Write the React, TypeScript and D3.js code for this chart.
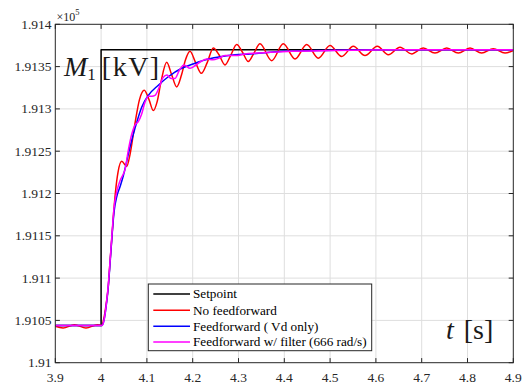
import React from "react";
import * as d3 from "d3";

// Axis ticks
const timeTicks = [3.9, 4.0, 4.1, 4.2, 4.3, 4.4, 4.5, 4.6, 4.7, 4.8, 4.9];
const timeTickLabels = ["3.9", "4", "4.1", "4.2", "4.3", "4.4", "4.5", "4.6", "4.7", "4.8", "4.9"];
const valueTicks = [1.91, 1.9105, 1.911, 1.9115, 1.912, 1.9125, 1.913, 1.9135, 1.914];
const valueTickLabels = ["1.91", "1.9105", "1.911", "1.9115", "1.912", "1.9125", "1.913", "1.9135", "1.914"];

// Setpoint (x10^5 kV)
const setpointT = [3.9, 4.0, 4.0, 4.9];
const setpointV = [1.91044, 1.91044, 1.9137, 1.9137];

// No feedforward
const noFfT = [
  3.9, 3.917, 3.942, 3.967, 3.992, 4.0013, 4.0063, 4.0107, 4.0157, 4.0194, 4.0231, 4.0271, 4.0314, 4.0369,
  4.045, 4.0559, 4.0631, 4.074, 4.0838, 4.0943, 4.1046, 4.114, 4.1221, 4.1308, 4.1432, 4.1537, 4.1651,
  4.1755, 4.1843, 4.1941, 4.2061, 4.2188, 4.2319, 4.245, 4.2574, 4.2705, 4.2836, 4.2961, 4.3087, 4.3214,
  4.3338, 4.3469, 4.3725, 4.3978, 4.4234, 4.4489, 4.4742, 4.4998, 4.5253, 4.5507, 4.5762, 4.6031, 4.6271,
  4.6526, 4.6782, 4.7035, 4.729, 4.7546, 4.7799, 4.8055, 4.831, 4.8563, 4.8819, 4.9,
];
const noFfV = [
  1.91043, 1.91041, 1.91045, 1.91041, 1.91045, 1.91044, 1.91053, 1.91068, 1.9109, 1.91119, 1.91145, 1.91175,
  1.91202, 1.91225, 1.91238, 1.91232, 1.91246, 1.91283, 1.91311, 1.91322, 1.91311, 1.91298, 1.91308, 1.91332,
  1.91355, 1.91341, 1.91326, 1.9134, 1.91358, 1.91368, 1.91355, 1.91342, 1.91355, 1.91372, 1.91364, 1.91352,
  1.91364, 1.91376, 1.91367, 1.91356, 1.91366, 1.91377, 1.91357, 1.91377, 1.91359, 1.91376, 1.9136, 1.91375,
  1.91362, 1.91374, 1.91363, 1.91374, 1.91364, 1.91373, 1.91365, 1.91372, 1.91366, 1.91372, 1.91366, 1.91372,
  1.91366, 1.91371, 1.91366, 1.91369,
];

// Feedforward (Vd only)
const ffT = [
  3.9, 4.002, 4.0063, 4.0107, 4.0157, 4.0194, 4.0231, 4.0282, 4.0341, 4.0413, 4.0485, 4.0559, 4.0631, 4.074,
  4.0886, 4.1031, 4.1249, 4.1467, 4.176, 4.205, 4.2341, 4.2633, 4.2924, 4.3251, 4.3972, 4.4714, 4.6155, 4.9,
];
const ffV = [
  1.91044, 1.91044, 1.9105, 1.91065, 1.9109, 1.91116, 1.91144, 1.91178, 1.91196, 1.91208, 1.91221, 1.91238,
  1.91255, 1.91277, 1.91302, 1.91316, 1.91328, 1.91338, 1.91348, 1.91354, 1.91359, 1.91362, 1.91364, 1.91365,
  1.91368, 1.91369, 1.9137, 1.9137,
];

// Feedforward with filter (666 rad/s)
const ffFiltT = [
  3.9, 4.002, 4.0063, 4.0107, 4.0157, 4.0194, 4.0231, 4.0282, 4.0341, 4.0413, 4.0485, 4.0522, 4.0587, 4.0668,
  4.074, 4.0812, 4.0886, 4.0959, 4.1031, 4.1111, 4.1177, 4.1264, 4.1352, 4.1439, 4.1526, 4.1614, 4.1712,
  4.181, 4.1941, 4.205, 4.2181, 4.2312, 4.2443, 4.2574, 4.2705, 4.2945, 4.3142, 4.3426, 4.3688, 4.4124,
  4.4998, 4.6526, 4.9,
];
const ffFiltV = [
  1.91044, 1.91044, 1.9105, 1.91066, 1.91092, 1.91119, 1.91147, 1.91183, 1.91202, 1.91215, 1.91223, 1.91228,
  1.91249, 1.9127, 1.91281, 1.91285, 1.91294, 1.91308, 1.91315, 1.91315, 1.91316, 1.91325, 1.91337, 1.9134,
  1.91336, 1.91336, 1.91346, 1.91352, 1.91348, 1.91351, 1.91356, 1.91359, 1.91358, 1.9136, 1.91363, 1.91363,
  1.91365, 1.91366, 1.91367, 1.91368, 1.91369, 1.9137, 1.9137,
];

const legendLabels = ["Setpoint", "No feedforward", "Feedforward ( Vd only)", "Feedforward w/ filter (666 rad/s)"];
const legendColors = ["#000000", "#ff0000", "#0000ff", "#ff00ff"];

const W = 522;
const H = 384;
const plot = { left: 55.3, right: 513.3, top: 24.3, bottom: 362.7 };
const axisColor = "#262626";
const serif = "'Liberation Serif', 'Times New Roman', Times, serif";

export default function App() {
  const x = d3.scaleLinear().domain([3.9, 4.9]).range([plot.left, plot.right]);
  const y = d3.scaleLinear().domain([1.91, 1.914]).range([plot.bottom, plot.top]);

  const smooth = d3
    .line<[number, number]>()
    .x((d) => x(d[0]))
    .y((d) => y(d[1]))
    .curve(d3.curveMonotoneX);
  const straight = d3
    .line<[number, number]>()
    .x((d) => x(d[0]))
    .y((d) => y(d[1]));

  const zip = (ts: number[], vs: number[]) => ts.map((t, i) => [t, vs[i]] as [number, number]);

  const series = [
    { d: straight(zip(setpointT, setpointV)), color: legendColors[0] },
    { d: smooth(zip(noFfT, noFfV)), color: legendColors[1] },
    { d: smooth(zip(ffT, ffV)), color: legendColors[2] },
    { d: smooth(zip(ffFiltT, ffFiltV)), color: legendColors[3] },
  ];

  const tickLen = 4.6;
  const leg = { x: 148.3, y: 284, w: 223.4, h: 66.7 };
  const legRows = [294, 310.3, 326.3, 342];
  const txt = { fontFamily: serif };

  return (
    <svg width={W} height={H} style={{ position: "absolute", left: 0, top: 0, background: "#fff" }}>
      <defs>
        <clipPath id="plotClip">
          <rect x={plot.left} y={plot.top} width={plot.right - plot.left} height={plot.bottom - plot.top} />
        </clipPath>
      </defs>
      <rect x={0} y={0} width={W} height={H} fill="#fff" />

      {/* grid */}
      <g stroke="#dedede" strokeWidth={1}>
        {timeTicks.slice(1, -1).map((t) => (
          <line key={"gx" + t} x1={x(t)} x2={x(t)} y1={plot.top} y2={plot.bottom} />
        ))}
        {valueTicks.slice(1, -1).map((v) => (
          <line key={"gy" + v} x1={plot.left} x2={plot.right} y1={y(v)} y2={y(v)} />
        ))}
      </g>

      {/* curves */}
      <g clipPath="url(#plotClip)" fill="none" strokeWidth={1.5} strokeLinejoin="round">
        {series.map((s, i) => (
          <path key={i} d={s.d || ""} stroke={s.color} />
        ))}
      </g>

      {/* box and ticks */}
      <g stroke={axisColor} strokeWidth={1}>
        <rect
          x={plot.left}
          y={plot.top}
          width={plot.right - plot.left}
          height={plot.bottom - plot.top}
          fill="none"
        />
        {timeTicks.map((t) => (
          <g key={"tx" + t}>
            <line x1={x(t)} x2={x(t)} y1={plot.bottom} y2={plot.bottom - tickLen} />
            <line x1={x(t)} x2={x(t)} y1={plot.top} y2={plot.top + tickLen} />
          </g>
        ))}
        {valueTicks.map((v) => (
          <g key={"ty" + v}>
            <line x1={plot.left} x2={plot.left + tickLen} y1={y(v)} y2={y(v)} />
            <line x1={plot.right} x2={plot.right - tickLen} y1={y(v)} y2={y(v)} />
          </g>
        ))}
      </g>

      {/* tick labels */}
      <g fill={axisColor} style={{ ...txt, fontSize: "13.5px" }}>
        {timeTicks.map((t, i) => (
          <text key={"lx" + t} x={x(t)} y={382} textAnchor="middle">
            {timeTickLabels[i]}
          </text>
        ))}
        {valueTicks.map((v, i) => (
          <text key={"ly" + v} x={51.5} y={y(v) + 4.5} textAnchor="end">
            {valueTickLabels[i]}
          </text>
        ))}
      </g>

      {/* exponent */}
      <text x={56.5} y={20.5} fill={axisColor} style={{ ...txt, fontSize: "12px" }}>
        ×10
        <tspan style={{ fontSize: "8.5px" }} dy={-5.5}>
          5
        </tspan>
      </text>

      {/* in-axes labels */}
      <g fill="#1a1a1a" style={{ ...txt, fontSize: "28px" }}>
        <text x={64} y={76}>
          <tspan fontStyle="italic">M</tspan>
          <tspan style={{ fontSize: "17px" }} dy={4}>
            1
          </tspan>
          <tspan dy={-4} dx={6} style={{ letterSpacing: "1.5px" }}>
            [kV]
          </tspan>
        </text>
        <text x={446} y={339}>
          <tspan fontStyle="italic">t</tspan>
          <tspan dx={10}>[s]</tspan>
        </text>
      </g>

      {/* legend */}
      <g>
        <rect x={leg.x} y={leg.y} width={leg.w} height={leg.h} fill="#fff" stroke="#262626" strokeWidth={1} />
        {legendLabels.map((label, i) => (
          <g key={label}>
            <line x1={153.3} x2={190} y1={legRows[i]} y2={legRows[i]} stroke={legendColors[i]} strokeWidth={1.5} />
            <text
              x={193}
              y={legRows[i] + 4.3}
              fill="#000"
              style={{ ...txt, fontSize: "13.2px", whiteSpace: "pre" }}
            >
              {label}
            </text>
          </g>
        ))}
      </g>
    </svg>
  );
}
